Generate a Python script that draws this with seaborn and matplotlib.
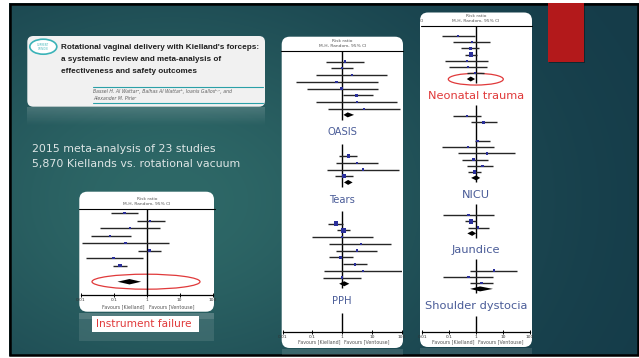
import numpy as np
import pandas as pd
import matplotlib.pyplot as plt
import seaborn as sns
from matplotlib import font_manager
from matplotlib.patches import FancyBboxPatch, Rectangle, Ellipse
from matplotlib.ticker import NullLocator

W, H = 639, 358

# ---- data (risk ratios, 95% CI, relative weight) ----
# instrument failure
fail_rr = [0.21, 1.26, 0.31, 0.078, 0.23, 1.2, 0.098, 0.155]
fail_lo = [0.083, 0.5, 0.038, 0.02, 0.011, 0.56, 0.014, 0.093]
fail_hi = [0.55, 3.6, 2.5, 0.33, 4.7, 2.8, 0.76, 0.25]
fail_w = [1, 1, 1, 1, 1, 1.2, 1, 1.6]
fail_pool = [0.30, 0.13, 0.68]

# OASIS
oasis_rr = [1.24, 1.0, 2.09, 0.65, 0.96, 3.1, 3.2, 5.4]
oasis_lo = [0.285, 0.41, 0.13, 0.028, 0.067, 1.09, 0.13, 0.34]
oasis_hi = [5.4, 2.25, 31, 15.6, 16.4, 10.6, 71, 88]
oasis_w = [1, 1, 1, 1, 1, 1.2, 1, 1]
oasis_pool = [1.53, 1.1, 2.5]

# tears
tears_rr = [1.6, 3.2, 4.9, 1.17]
tears_lo = [0.8, 0.62, 0.3, 0.57]
tears_hi = [3.2, 15.6, 83, 2.36]
tears_w = [1.5, 1, 1, 2]
tears_pool = [1.58, 1.15, 2.24]

# PPH
pph_rr = [0.62, 1.1, 1.0, 4.2, 3.1, 0.89, 2.7, 4.9, 1.0]
pph_lo = [0.34, 0.69, 0.094, 0.37, 0.62, 0.37, 1.04, 0.25, 0.23]
pph_hi = [1.09, 1.83, 10.6, 43, 15.1, 2.25, 6.9, 100, 4.2]
pph_w = [2.5, 3, 1, 1, 1, 1.3, 1.2, 1, 1]
pph_pool = [1.17, 0.79, 1.74]

# neonatal trauma
neo_rr = [0.21, 0.69, 0.6, 0.65, 0.45, 0.49, 0.9]
neo_lo = [0.056, 0.14, 0.28, 0.39, 0.07, 0.094, 0.45]
neo_hi = [0.87, 3.3, 1.3, 1.07, 2.7, 2.5, 1.9]
neo_w = [1, 1, 1.3, 2.5, 1, 1, 1]
neo_pool = [0.63, 0.45, 0.91]

# NICU (two studies not estimable)
nicu_rr = [0.45, 1.9, None, None, 1.15, 0.49, 2.5, 0.79, 1.7, 0.87]
nicu_lo = [0.14, 0.65, None, None, 0.87, 0.056, 0.22, 0.3, 0.45, 0.49]
nicu_hi = [1.5, 5.9, None, None, 3.3, 4.8, 28, 2.7, 4.4, 1.5]
nicu_w = [1, 1, 1, 1, 1.3, 1, 1, 1, 1, 2]
nicu_pool = [1.0, 0.65, 1.41]

# jaundice
jaun_rr = [0.52, 0.65, 1.2]
jaun_lo = [0.058, 0.39, 0.48]
jaun_hi = [4.7, 1.0, 2.9]
jaun_w = [1, 2.5, 1]
jaun_pool = [0.71, 0.47, 1.0]

# shoulder dystocia
sd_rr = [4.7, 0.52, 1.6]
sd_lo = [0.6, 0.058, 0.6]
sd_hi = [34, 4.4, 4.4]
sd_w = [1, 1, 1.3]
sd_pool = [1.4, 0.6, 4.2]

ticks = [0.01, 0.1, 1, 10, 100]
tick_labels = ['0.01', '0.1', '1', '10', '100']

CI_COL = '#262626'
SQ_COL = '#2a2f9a'
LAB_COL = '#4a5c98'
RED = '#e0393a'

sns.set_theme(style='white')
plt.rcParams['font.family'] = ['DejaVu Sans']

fig = plt.figure(figsize=(W / 100, H / 100), dpi=100, facecolor='white')
bg = fig.add_axes([0, 0, 1, 1])

# slide background
yy, xx = np.mgrid[0:H, 0:W]
t = np.exp(-(((xx - 170) / 300) ** 2 + ((yy - 200) / 220) ** 2))
dark = np.array([20, 58, 72]) / 255
light = np.array([46, 104, 103]) / 255
bg.imshow(dark + t[..., None] * (light - dark), extent=(0, W, H, 0), aspect='auto', zorder=0)
bg.set_xlim(0, W)
bg.set_ylim(H, 0)
bg.axis('off')
for r in [(0, 0, 9, H), (0, 0, W, 3), (0, 356, W, 2)]:
    bg.add_patch(Rectangle(r[:2], r[2], r[3], fc='white', ec='none', zorder=1))
bg.add_patch(Rectangle((10, 4), 627.8, 350.5, fc='none', ec='black', lw=1.8, zorder=2))

# red accent
bg.add_patch(Rectangle((549, 4.5), 36.3, 58.7, fc='black', alpha=0.35, ec='none', zorder=2))
bg.add_patch(Rectangle((547.7, 3), 36.3, 58.7, fc='#b3191b', ec='none', zorder=3))

# article header card
bg.add_patch(FancyBboxPatch((27.3, 36), 237.7, 70.7, boxstyle='round,pad=0,rounding_size=6',
                            fc='#f1f1f1', ec='none', zorder=2))
refl = np.zeros((20, 2, 4))
refl[..., :3] = 1
refl[..., 3] = np.linspace(0.16, 0, 20)[:, None]
bg.imshow(refl, extent=(27.3, 265, 126, 107), aspect='auto', zorder=2)
bg.set_xlim(0, W)
bg.set_ylim(H, 0)
bg.add_patch(Ellipse((43.3, 46.7), 27, 15, fc='white', ec='#3bb3b8', lw=1.2, zorder=3))
bg.text(43.3, 46.7, 'CURRENT\nOPINION', fontsize=1.8, color='#3bb3b8', ha='center', va='center',
        linespacing=1.0, zorder=4)

names = {f.name for f in font_manager.fontManager.ttflist}
if 'Liberation Sans Narrow' in names:
    title_kw = dict(family=['Liberation Sans Narrow', 'DejaVu Sans'], fontsize=6.5)
elif 'Liberation Sans' in names:
    title_kw = dict(family=['Liberation Sans', 'DejaVu Sans'], fontsize=5.9)
else:
    title_kw = dict(family=['DejaVu Sans'], fontsize=5.3)
title_lines = ["Rotational vaginal delivery with Kielland's forceps:",
               'a systematic review and meta-analysis of',
               'effectiveness and safety outcomes']
for i, line in enumerate(title_lines):
    bg.text(61, 47.3 + i * 12.2, line, fontweight='bold', color='#1e1e1e', ha='left', va='center',
            zorder=4, **title_kw)
bg.plot([93.3, 263], [86.7, 86.7], color='#2aa0a8', lw=0.8, zorder=4)
bg.plot([93.3, 263], [103.3, 103.3], color='#2aa0a8', lw=0.8, zorder=4)
bg.text(93.3, 91.7, 'Bassel H. Al Wattarᵃ, Balhas Al Wattarᵇ, Ioanis Gallosᵇ˒ᶜ, and',
        fontsize=3.3, style='italic', color='#606060', ha='left', va='center', zorder=4)
bg.text(93.3, 98.3, 'Alexander M. Pirieᶜ', fontsize=3.3, style='italic', color='#606060',
        ha='left', va='center', zorder=4)

bg.text(31.7, 149, '2015 meta-analysis of 23 studies', fontsize=7.9, color='#dde5e5',
        ha='left', va='center', zorder=4)
bg.text(31.7, 164.3, '5,870 Kiellands vs. rotational vacuum', fontsize=7.9, color='#dde5e5',
        ha='left', va='center', zorder=4)

# white forest-plot cards and their faint reflections
cards = [(79.3, 191.7, 214, 311.7), (281.7, 36.7, 403, 348), (420, 12.5, 532, 347)]
for l, tp, r, b in cards:
    bg.add_patch(Rectangle((l, b + 1), r - l, 6, fc='white', alpha=0.12, ec='none', zorder=2))
    bg.add_patch(FancyBboxPatch((l, tp), r - l, b - tp, boxstyle='round,pad=0,rounding_size=8',
                                fc='white', ec='none', zorder=3))
bg.add_patch(Rectangle((79.3, 312.7), 134.7, 28, fc='white', alpha=0.1, ec='none', zorder=2))
bg.add_patch(Rectangle((91.7, 315.7), 107.6, 16, fc='white', ec='none', zorder=4))
bg.text(144, 323.7, 'Instrument failure', fontsize=7.6, color=RED, ha='center', va='center', zorder=5)

# red ellipses round the pooled estimates
bg.add_patch(Ellipse((146, 281.7), 108, 15, fc='none', ec=RED, lw=0.9, zorder=4))
bg.add_patch(Ellipse((475.8, 79.2), 55, 11.7, fc='none', ec=RED, lw=0.9, zorder=4))


def px_axes(l, tp, r, b):
    return fig.add_axes([l / W, 1 - b / H, (r - l) / W, (b - tp) / H])


def forest(ax, groups, first, pool_gap, label_gap, next_gap, axis_row, dh, fav_off, lab_size):
    ax.set_facecolor('none')
    ax.set_xscale('log')
    start = first
    for i, g in enumerate(groups):
        rr, lo, hi, w, pool, label = g
        df = pd.DataFrame({'rr': rr, 'lo': lo, 'hi': hi, 'w': w}).astype(float)
        df['y'] = start + np.arange(len(df))
        ok = df.dropna()
        ax.hlines(ok['y'].to_numpy(), ok['lo'].to_numpy(), ok['hi'].to_numpy(),
                  color=CI_COL, lw=1.0, zorder=2)
        sns.scatterplot(data=ok, x='rr', y='y', size='w', sizes=(3, 13), size_norm=(1, 3),
                        marker='s', color=SQ_COL, linewidth=0, legend=False, ax=ax, zorder=3)
        yd = start + len(df) - 1 + pool_gap
        prr, plo, phi = pool
        ax.fill([plo, prr, phi, prr], [yd, yd - dh, yd, yd + dh], color='black', lw=0, zorder=4)
        top = 0 if i == 0 else start - 1.8
        last = i == len(groups) - 1
        bottom = axis_row if (last and not label) else yd + 0.7
        ax.vlines(1, top, bottom, color='black', lw=1.0, zorder=1)
        if label:
            ly = yd + label_gap
            box = dict(boxstyle='square,pad=0.4', fc='white', ec='none') if last else None
            ax.text(1, ly, label, fontsize=lab_size, color=LAB_COL, ha='center', va='center',
                    bbox=box, zorder=5)
            if last:
                ax.vlines(1, ly + 1.7, axis_row, color='black', lw=1.0, zorder=1)
        start = yd + next_gap

    ax.set_xlim(0.01, 100)
    ax.set_ylim(axis_row, 0)
    ax.set_xticks(ticks, labels=tick_labels)
    ax.xaxis.set_minor_locator(NullLocator())
    ax.set_yticks([])
    ax.set_xlabel('')
    ax.set_ylabel('')
    sns.despine(ax=ax, left=True)
    ax.spines['bottom'].set_color('black')
    ax.spines['bottom'].set_linewidth(0.9)
    ax.tick_params(axis='x', bottom=True, direction='inout', length=3, width=0.7, color='black',
                   labelsize=3.2, labelcolor='#333333', pad=1)
    ax.axhline(0, -0.015, 1.015, color='black', lw=0.8, clip_on=False)
    hdr = dict(xycoords='axes fraction', textcoords='offset points', ha='center', va='center',
               fontsize=3.2, color='#555555')
    ax.annotate('Risk ratio', (0.5, 1), xytext=(0, 7.2), **hdr)
    ax.annotate('M-H, Random, 95% CI', (0.5, 1), xytext=(0, 3.5), **hdr)
    fav = dict(xycoords=('data', 'axes fraction'), textcoords='offset points', va='center',
               fontsize=3.4, color='#555555')
    ax.annotate('Favours [Kielland]', (1, 0), xytext=(-1.5, -fav_off), ha='right', **fav)
    ax.annotate('Favours [Ventouse]', (1, 0), xytext=(1.5, -fav_off), ha='left', **fav)
    return ax


ax1 = px_axes(80.7, 209, 212.7, 295)
forest(ax1, [(fail_rr, fail_lo, fail_hi, fail_w, fail_pool, None)],
       first=0.57, pool_gap=2.13, label_gap=0, next_gap=0, axis_row=11.47, dh=0.36,
       fav_off=8.6, lab_size=7.4)

ax2 = px_axes(282.7, 50.7, 401.7, 331.7)
forest(ax2, [(oasis_rr, oasis_lo, oasis_hi, oasis_w, oasis_pool, 'OASIS'),
             (tears_rr, tears_lo, tears_hi, tears_w, tears_pool, 'Tears'),
             (pph_rr, pph_lo, pph_hi, pph_w, pph_pool, 'PPH')],
       first=1.6, pool_gap=0.9, label_gap=2.6, next_gap=6.1, axis_row=41.6, dh=0.37,
       fav_off=7.6, lab_size=7.2)

ax3 = px_axes(422.3, 26, 530, 332)
forest(ax3, [(neo_rr, neo_lo, neo_hi, neo_w, neo_pool, 'Neonatal trauma'),
             (nicu_rr, nicu_lo, nicu_hi, nicu_w, nicu_pool, 'NICU'),
             (jaun_rr, jaun_lo, jaun_hi, jaun_w, jaun_pool, 'Jaundice'),
             (sd_rr, sd_lo, sd_hi, sd_w, sd_pool, 'Shoulder dystocia')],
       first=1.6, pool_gap=0.95, label_gap=2.7, next_gap=6.0, axis_row=49.35, dh=0.4,
       fav_off=7.2, lab_size=8.2)
ax3.texts[0].set_color(RED)
ax3.annotate('CI', (0, 1), xycoords='axes fraction', textcoords='offset points', xytext=(-1.5, 3.5),
             ha='left', va='center', fontsize=3.2, color='#555555')

fig.savefig('out.png', dpi=100, facecolor='white')
